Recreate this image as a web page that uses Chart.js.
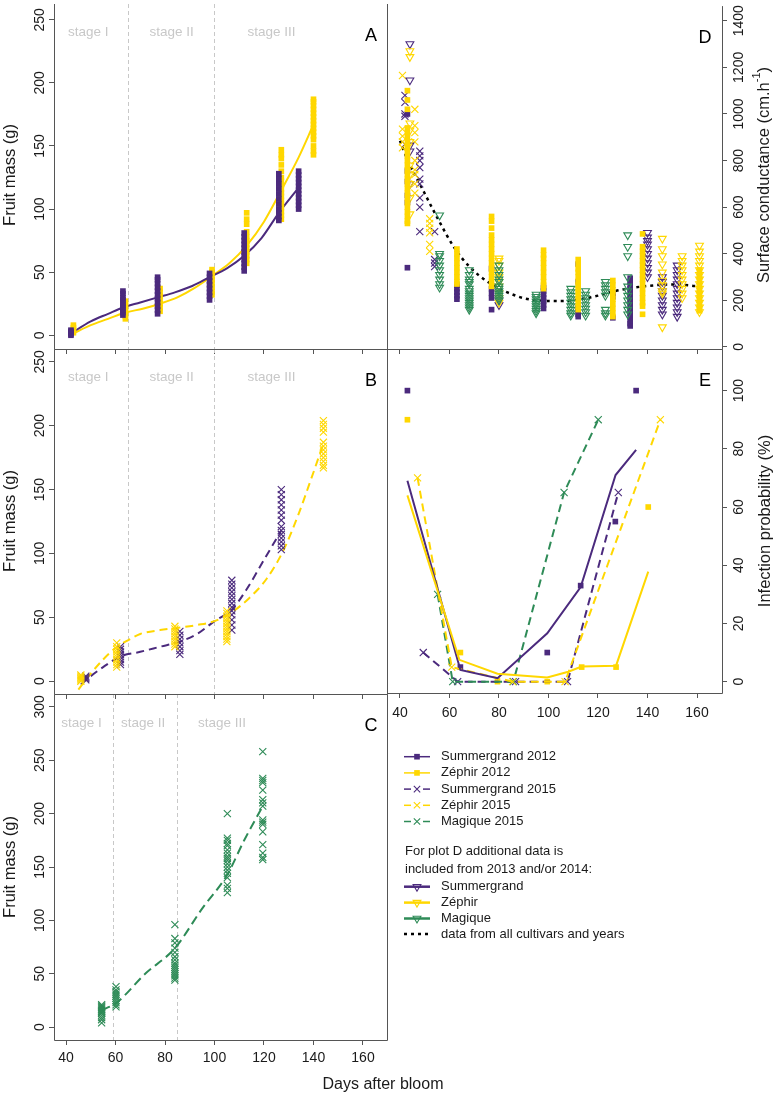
<!DOCTYPE html>
<html>
<head>
<meta charset="utf-8">
<script src="https://cdn.jsdelivr.net/npm/chart.js@4.4.1/dist/chart.umd.min.js"></script>
<style>
  body { margin: 0; background: #fff; }
  #wrap { position: relative; width: 777px; height: 1095px; }
  #wrap canvas { position: absolute; left: 0; top: 0; }
</style>
</head>
<body>
<div id="wrap">
  <canvas id="cA" width="777" height="1095"></canvas>
  <canvas id="cB" width="777" height="1095"></canvas>
  <canvas id="cC" width="777" height="1095"></canvas>
  <canvas id="cD" width="777" height="1095"></canvas>
  <canvas id="cE" width="777" height="1095"></canvas>
</div>
<script>
// colours / fonts
const PURPLE = '#4b2a7d', YELLOW = '#ffd700', GREEN = '#2e8b57';
const AXIS = '#555', TEXT = '#1a1a1a', STAGE = '#c8c8c8';
const FONT = "'Liberation Sans', Arial, sans-serif";

// tick labels
const dayTicks = [40, 60, 80, 100, 120, 140, 160];
const massTicksAB = [0, 50, 100, 150, 200, 250];
const massTicksC = [0, 50, 100, 150, 200, 250, 300];
const condTicks = [0, 200, 400, 600, 800, 1000, 1200, 1400];
const probTicks = [0, 20, 40, 60, 80, 100];
const stageNames = ['stage I', 'stage II', 'stage III'];

// ---- panel A : fruit mass 2012 (squares) ----
const aSG12Days = [42, 63, 77, 98, 112, 126, 134];
const aSG12Mass = [
  [0, 1, 2, 3, 4],
  [16, 18, 20, 22, 24, 26, 28, 30, 33, 35],
  [17, 20, 23, 26, 29, 32, 35, 38, 41, 44, 46],
  [28, 31, 34, 37, 40, 43, 46, 49],
  [51, 54, 57, 60, 63, 66, 69, 72, 75, 78, 81],
  [91, 94, 97, 100, 104, 108, 112, 116, 120, 124, 128],
  [100, 103, 106, 109, 112, 115, 118, 121, 124, 127, 130]
];
const aZe12Days = [43, 64, 78, 99, 113, 127, 140];
const aZe12Mass = [
  [2, 4, 6, 8],
  [13, 15, 17, 19, 21, 23, 25, 27],
  [19, 22, 25, 28, 31, 34, 37],
  [32, 35, 38, 41, 44, 47, 50, 52],
  [57, 60, 63, 66, 69, 72, 75, 78, 82, 88, 92, 97],
  [92, 95, 98, 101, 104, 107, 110, 113, 116, 119, 122, 125, 130, 135, 140, 143, 147],
  [143, 146, 150, 155, 158, 161, 164, 167, 170, 173, 176, 179, 182, 185, 187]
];
const aSG12FitDays = [42, 50, 57, 63, 70, 77, 84, 91, 98, 105, 112, 119, 126, 134];
const aSG12FitMass = [1.5, 11, 17, 22, 26, 30, 34, 39, 46, 53, 63, 77, 97, 117];
const aZe12FitDays = [43, 50, 57, 64, 71, 78, 85, 92, 99, 106, 113, 120, 127, 134, 140];
const aZe12FitMass = [1.5, 8, 13, 18, 21, 25, 30, 37.5, 47, 57, 71, 90, 115, 141, 167];

// ---- panel B : fruit mass 2015 (crosses) ----
const bSG15Days = [48, 62, 86, 107, 127];
const bSG15Mass = [
  [1, 2, 3, 4],
  [13, 15, 17, 19, 21, 23, 25, 27],
  [21, 24, 27, 30, 33, 36, 39],
  [40, 44, 48, 52, 55, 58, 61, 64, 67, 70, 73, 76, 79],
  [103, 106, 109, 112, 115, 118, 121, 126, 130, 134, 138, 142, 146, 150]
];
const bZe15Days = [46, 60.5, 84, 105, 144];
const bZe15Mass = [
  [0, 1, 2, 3, 4, 5],
  [11, 13, 15, 17, 19, 21, 23, 25, 27, 30],
  [27, 29, 31, 33, 35, 37, 39, 41, 43],
  [31, 33, 35, 37, 39, 41, 43, 45, 47, 49, 51, 53, 55],
  [167, 169, 172, 175, 178, 181, 184, 187, 195, 198, 201, 204]
];
const bSG15FitDays = [46, 50, 55, 62, 70, 78, 86, 93, 100, 107, 113, 120, 127];
const bSG15FitMass = [-2.6, 4, 11, 19.5, 23, 27, 31, 37, 47, 56, 72, 95, 118];
const bZe15FitDays = [45, 50, 55, 60, 65, 70, 78, 86, 93, 100, 107, 114, 121, 128, 134, 139, 144];
const bZe15FitMass = [-6.5, 6, 17, 26, 32, 37, 40, 42, 44, 47, 54, 65, 80, 103, 131, 158, 186];

// ---- panel C : Magique 2015 ----
const cMag15Days = [54.4, 60.2, 84, 105.2, 119.5];
const cMag15Mass = [
  [4, 7, 9, 11, 13, 14, 15, 16, 17, 18, 19, 20, 21],
  [19, 21, 23, 25, 27, 29, 31, 33, 35, 38],
  [44, 46, 48, 50, 52, 54, 56, 58, 60, 63, 66, 70, 74, 79, 83, 96],
  [126, 130, 133, 140, 144, 147, 150, 153, 156, 158, 160, 163, 166, 170, 172, 175, 177, 200],
  [157, 159, 163, 171, 183, 190, 192, 194, 207, 210, 213, 222, 229, 231, 233, 258]
];
const cMag15FitDays = [54.4, 60.2, 72, 84, 95, 105.2, 112, 119.5];
const cMag15FitMass = [16, 22.5, 50, 74, 111, 143, 175, 207];

// ---- panel D : surface conductance ----
const dZe15Days = [41, 46, 52];
const dZe15Cond = [
  [1165, 935, 905, 880, 855],
  [1020, 950, 920, 880, 800, 760, 740, 700, 660],
  [550, 530, 510, 490, 440, 410]
];
const dSG15Days = [42, 48, 54];
const dSG15Cond = [
  [1080, 1050, 1000, 990, 870],
  [840, 820, 800, 770, 720, 700, 640, 600, 495],
  [495, 375, 360, 345]
];
const dSG12Days = [43, 63, 77, 98, 112, 126, 133];
const dSG12Cond = [
  [1000, 755, 710, 650, 620, 340],
  [265, 250, 235, 220, 205],
  [335, 250, 230, 210, 160],
  [255, 240, 225, 210, 195, 180, 165],
  [355, 280, 170, 155, 140, 130],
  [230, 215, 125],
  [295, 280, 265, 250, 235, 220, 205, 190, 175, 160, 145, 130, 115, 100, 90]
];
const dZe12Days = [43, 63, 77, 98, 112, 126, 138, 161];
const dZe12Cond = [
  [1100, 1060, 1020, 940, 920, 900, 880, 860, 840, 820, 800, 780, 760, 740, 720, 700, 680, 660, 640, 620, 600, 580, 560, 540, 530],
  [420, 400, 380, 360, 340, 320, 300, 280, 270],
  [560, 540, 510, 480, 460, 440, 420, 400, 380, 360, 340, 320, 300, 280, 260],
  [415, 395, 380, 360, 340, 320, 300, 280, 265, 250],
  [375, 355, 335, 320, 300, 280, 265, 250, 235, 220, 205, 190, 175, 160],
  [285, 265, 245, 225, 205, 185, 165, 145, 130],
  [485, 430, 410, 390, 370, 350, 330, 310, 290, 270, 250, 230, 210, 190, 175, 140],
  [330, 310, 290, 270, 250, 230, 210, 190, 170, 155]
];
const dSGTriDays = [44, 80, 140, 146, 152];
const dSGTriCond = [
  [1300, 1145, 865, 840, 700],
  [200, 180],
  [490, 470, 455, 440, 420, 400, 380, 360, 340, 320, 300],
  [300, 280, 260, 240, 220, 200, 180, 160, 140],
  [350, 330, 310, 290, 270, 250, 230, 210, 190, 170, 150, 130]
];
const dZeTriDays = [44, 80, 146, 154, 161];
const dZeTriCond = [
  [1270, 1245, 960, 930, 880, 780, 740, 700, 640, 570],
  [380, 370, 350, 320, 300, 280, 260, 230, 210, 190],
  [465, 420, 390, 355, 320, 285, 265, 240, 230, 85],
  [390, 370, 350, 330, 310, 290, 270, 250, 230, 210],
  [435, 410, 390, 370, 350, 330, 310, 290, 270, 250, 230, 210, 190, 170, 150]
];
const dMagTriDays = [56, 68, 80, 95, 109, 115, 123, 132];
const dMagTriCond = [
  [565, 400, 390, 370, 350, 330, 310, 290, 270, 255],
  [330, 310, 290, 280, 270, 250, 240, 230, 220, 210, 200, 190, 180, 170, 160],
  [350, 330, 310, 290, 280, 260, 250, 240, 230, 220, 210, 200],
  [225, 215, 205, 195, 185, 175, 165, 155, 145],
  [250, 235, 220, 205, 190, 175, 160, 145, 135],
  [240, 225, 210, 195, 180, 165, 150, 135],
  [280, 265, 250, 235, 220, 160, 145, 135],
  [480, 430, 390, 300, 260, 240, 220, 200, 180, 160, 140]
];
const dFitDays = [40, 43, 48, 55, 62, 68, 76, 87, 95, 105, 113, 120, 127, 135, 140, 151, 162];
const dFitCond = [885, 805, 700, 556, 425, 345, 276, 219, 200, 197, 205, 220, 240, 255, 262, 268, 258];

// ---- panel E : infection probability ----
const eSG12ObsDays = [43, 64.4, 99.5, 113, 127, 135.4];
const eSG12ObsProb = [100, 5, 10, 33, 55, 100];
const eZe12ObsDays = [43, 64.4, 79.4, 99.5, 113.4, 127.3, 140.3];
const eZe12ObsProb = [90, 10, 0, 0, 5, 5, 60];
const eSG12FitDays = [43, 64.4, 79.4, 99.5, 113, 127.1, 135.4];
const eSG12FitProb = [69, 4, 1.2, 16.6, 32.5, 71, 79.6];
const eZe12FitDays = [43, 64, 79.4, 99.5, 108, 113.4, 127.3, 140.3];
const eZe12FitProb = [64, 7.5, 2.7, 1.4, 3.4, 5.2, 5.5, 37.8];
const eSG15Days = [49.4, 63.3, 86.7, 107.7, 128.2];
const eSG15Prob = [10, 0, 0, 0, 65];
const eZe15Days = [47.1, 60.9, 85.5, 106.7, 145.2];
const eZe15Prob = [70, 5, 0, 0, 90];
const eMag15Days = [55.2, 61.3, 85.8, 106.3, 120.1];
const eMag15Prob = [30, 0, 0, 65, 90];

// ---- helpers ----
const el = (id) => document.getElementById(id);
const W = 777, H = 1095;
const XLAB_H = 30; // room kept under panels that show day labels

function cols(days, vals){
  return days.flatMap((d, i) => vals[i].map(v => ({x: d, y: v})));
}
function pairs(days, vals){
  return days.map((d, i) => ({x: d, y: vals[i]}));
}
function marks(data, color, style, r){
  const filled = style === 'rect';
  return {
    data, showLine: false, pointStyle: style, pointRadius: r,
    pointRotation: style === 'triangle' ? 180 : 0,
    pointBackgroundColor: filled ? color : 'rgba(0,0,0,0)',
    pointBorderColor: color, pointBorderWidth: filled ? 0 : 1.1
  };
}
function curve(data, color, dash, w, smooth){
  return {
    data, showLine: true, pointRadius: 0, borderColor: color, borderWidth: w,
    borderDash: dash, fill: false,
    cubicInterpolationMode: smooth ? 'monotone' : 'default', tension: 0
  };
}
function dashedWithX(data, color){
  return {
    data, showLine: true, borderColor: color, borderWidth: 2, borderDash: [8, 5],
    pointStyle: 'crossRot', pointRadius: 5, pointBorderColor: color,
    pointBorderWidth: 1.1, pointBackgroundColor: 'rgba(0,0,0,0)', tension: 0
  };
}

function text(ctx, s, x, y, size, color, align, rot){
  ctx.save();
  ctx.font = size + 'px ' + FONT;
  ctx.fillStyle = color;
  ctx.textAlign = align || 'center';
  ctx.textBaseline = 'middle';
  ctx.translate(x, y);
  if (rot) ctx.rotate(rot);
  ctx.fillText(s, 0, 0);
  ctx.restore();
}

// axes, frame, stage marks and titles of one panel
function decoPlugin(cfg){
  return {
    id: 'deco',
    beforeDatasetsDraw(chart){
      if (!cfg.stages) return;
      const ctx = chart.ctx, a = chart.chartArea, xs = chart.scales.x;
      ctx.save();
      ctx.strokeStyle = STAGE; ctx.lineWidth = 1; ctx.setLineDash([4, 3]);
      cfg.stages.lines.forEach(d => {
        const px = Math.round(xs.getPixelForValue(d)) + 0.5;
        ctx.beginPath(); ctx.moveTo(px, a.top); ctx.lineTo(px, a.bottom); ctx.stroke();
      });
      ctx.restore();
      cfg.stages.centers.forEach((d, i) => {
        text(ctx, stageNames[i], xs.getPixelForValue(d), cfg.stages.y, 13.5, STAGE);
      });
    },
    afterDraw(chart){
      const ctx = chart.ctx, a = chart.chartArea, ys = chart.scales.y;
      ctx.save();
      ctx.strokeStyle = AXIS; ctx.lineWidth = 1;
      ctx.beginPath();
      const L = a.left + 0.5, R = a.right + 0.5, T = a.top + 0.5, B = a.bottom + 0.5;
      ctx.moveTo(L, cfg.top ? T : a.top); ctx.lineTo(L, B); ctx.lineTo(R, B); ctx.lineTo(R, cfg.top ? T : a.top);
      if (cfg.top) { ctx.moveTo(L, T); ctx.lineTo(R, T); }
      ctx.stroke();
      ctx.restore();
      const lx = cfg.right ? 739 : 40;
      ys.ticks.forEach(t => {
        text(ctx, String(t.value), lx, ys.getPixelForValue(t.value), 14, TEXT, 'center', -Math.PI / 2);
      });
      text(ctx, cfg.letter, cfg.right ? 705 : 371, a.top + 32, 18, '#000');
      if (cfg.title) cfg.title(ctx, a);
      if (cfg.extra) cfg.extra(ctx, chart);
    }
  };
}

function makePanel(id, box, xr, yr, yTicks, cfg, datasets){
  const showX = !!cfg.xLabels;
  const xH = showX ? XLAB_H : 0;
  return new Chart(el(id), {
    type: 'scatter',
    data: { datasets },
    options: {
      responsive: false, animation: false, events: [],
      layout: { padding: { left: box[0], top: box[1], right: W - box[2], bottom: H - box[3] - xH } },
      plugins: { legend: { display: false }, tooltip: { enabled: false } },
      scales: {
        x: {
          type: 'linear', min: xr[0], max: xr[1],
          afterBuildTicks: s => { s.ticks = dayTicks.map(v => ({ value: v })); },
          afterFit: s => { s.height = xH; },
          grid: { drawOnChartArea: false, drawTicks: true, tickLength: 5, color: AXIS },
          border: { display: false },
          ticks: { display: showX, color: TEXT, font: { family: FONT, size: 14 },
                   padding: cfg.xPad || 4, maxRotation: 0, autoSkip: false }
        },
        y: {
          type: 'linear', position: cfg.right ? 'right' : 'left', min: yr[0], max: yr[1],
          afterBuildTicks: s => { s.ticks = yTicks.map(v => ({ value: v })); },
          afterFit: s => { s.width = 0; },
          grid: { drawOnChartArea: false, drawTicks: true, tickLength: 5, color: AXIS },
          border: { display: false },
          ticks: { display: false }
        }
      }
    },
    plugins: [decoPlugin(cfg)]
  });
}

const leftX = [35.15, 169.7], rightX = [34.75, 170.1];
const massTitle = (cy) => (ctx) => text(ctx, 'Fruit mass (g)', 10, cy, 16.5, TEXT, 'center', -Math.PI / 2);

// A
makePanel('cA', [54, 0, 387, 349], leftX, [-10.9, 262.5], massTicksAB,
  { letter: 'A', title: massTitle(175), stages: { lines: [65, 100], centers: [49, 82.7, 123], y: 32 } },
  [
    marks(cols(aSG12Days, aSG12Mass), PURPLE, 'rect', 4),
    marks(cols(aZe12Days, aZe12Mass), YELLOW, 'rect', 4),
    curve(pairs(aSG12FitDays, aSG12FitMass), PURPLE, [], 2, true),
    curve(pairs(aZe12FitDays, aZe12FitMass), YELLOW, [], 2, true)
  ]);

// B
makePanel('cB', [54, 349, 387, 694], leftX, [-10, 260], massTicksAB,
  { letter: 'B', top: true, title: massTitle(521), stages: { lines: [65, 100], centers: [49, 82.7, 123], y: 377 } },
  [
    marks(cols(bZe15Days, bZe15Mass), YELLOW, 'crossRot', 5),
    marks(cols(bSG15Days, bSG15Mass), PURPLE, 'crossRot', 5),
    curve(pairs(bZe15FitDays, bZe15FitMass), YELLOW, [8, 5], 2, true),
    curve(pairs(bSG15FitDays, bSG15FitMass), PURPLE, [8, 5], 2, true)
  ]);

// C
makePanel('cC', [54, 694, 387, 1040], leftX, [-12, 312], massTicksC,
  { letter: 'C', top: true, xLabels: true, xPad: 5, title: (ctx) => {
      text(ctx, 'Fruit mass (g)', 10, 867, 16.5, TEXT, 'center', -Math.PI / 2);
      text(ctx, 'Days after bloom', 383, 1085, 16, TEXT);
    },
    stages: { lines: [59, 85], centers: [46.3, 71.2, 103], y: 723 } },
  [
    marks(cols(cMag15Days, cMag15Mass), GREEN, 'crossRot', 5),
    curve(pairs(cMag15FitDays, cMag15FitMass), GREEN, [9, 5], 2, true)
  ]);

// D
makePanel('cD', [387, 0, 722, 349], rightX, [-9, 1463], condTicks,
  { letter: 'D', right: true, title: (ctx) => {
      ctx.save();
      ctx.translate(764, 175);
      ctx.rotate(-Math.PI / 2);
      ctx.font = '16.5px ' + FONT;
      ctx.fillStyle = TEXT; ctx.textBaseline = 'middle'; ctx.textAlign = 'left';
      const main = 'Surface conductance (cm.h', sup = '-1', end = ')';
      const wMain = ctx.measureText(main).width, wEnd = ctx.measureText(end).width;
      ctx.font = '11px ' + FONT;
      const wSup = ctx.measureText(sup).width;
      const x0 = -(wMain + wSup + wEnd) / 2;
      ctx.font = '16.5px ' + FONT;
      ctx.fillText(main, x0, 0);
      ctx.fillText(end, x0 + wMain + wSup, 0);
      ctx.font = '11px ' + FONT;
      ctx.fillText(sup, x0 + wMain, -7);
      ctx.restore();
    } },
  [
    marks(cols(dMagTriDays, dMagTriCond), GREEN, 'triangle', 4.5),
    marks(cols(dZe12Days, dZe12Cond), YELLOW, 'rect', 4),
    marks(cols(dSG12Days, dSG12Cond), PURPLE, 'rect', 4),
    marks(cols(dZeTriDays, dZeTriCond), YELLOW, 'triangle', 4.5),
    marks(cols(dSGTriDays, dSGTriCond), PURPLE, 'triangle', 4.5),
    marks(cols(dZe15Days, dZe15Cond), YELLOW, 'crossRot', 5),
    marks(cols(dSG15Days, dSG15Cond), PURPLE, 'crossRot', 5),
    curve(pairs(dFitDays, dFitCond), '#000', [3, 4], 2.5, true)
  ]);

// legend (drawn under panel E)
const legendRows = [
  { label: 'Summergrand 2012', color: PURPLE, style: 'rect', dashed: false },
  { label: 'Zéphir 2012', color: YELLOW, style: 'rect', dashed: false },
  { label: 'Summergrand 2015', color: PURPLE, style: 'crossRot', dashed: true },
  { label: 'Zéphir 2015', color: YELLOW, style: 'crossRot', dashed: true },
  { label: 'Magique 2015', color: GREEN, style: 'crossRot', dashed: true }
];
const legendRowsD = [
  { label: 'Summergrand', color: PURPLE },
  { label: 'Zéphir', color: YELLOW },
  { label: 'Magique', color: GREEN }
];

function drawMark(ctx, style, color, x, y, r){
  const filled = style === 'rect';
  ctx.save();
  ctx.fillStyle = filled ? color : 'rgba(0,0,0,0)';
  ctx.strokeStyle = color;
  ctx.lineWidth = 1.1;
  Chart.helpers.drawPoint(ctx, { pointStyle: style, radius: r,
    rotation: style === 'triangle' ? 180 : 0, borderWidth: filled ? 0 : 1.1 }, x, y);
  ctx.restore();
}
function seg(ctx, color, w, x1, x2, y, dash){
  ctx.save();
  ctx.strokeStyle = color; ctx.lineWidth = w; ctx.setLineDash(dash || []);
  ctx.beginPath(); ctx.moveTo(x1, y); ctx.lineTo(x2, y); ctx.stroke();
  ctx.restore();
}
function drawLegend(ctx){
  legendRows.forEach((r, i) => {
    const y = 756.7 + i * 16.2;
    if (r.dashed) { seg(ctx, r.color, 1.5, 404, 411, y); seg(ctx, r.color, 1.5, 423, 430, y); }
    else seg(ctx, r.color, 1.5, 404, 430, y);
    drawMark(ctx, r.style, r.color, 417, y, r.style === 'rect' ? 4 : 4.5);
    text(ctx, r.label, 441, y, 13, TEXT, 'left');
  });
  text(ctx, 'For plot D additional data is', 405, 851.7, 13, TEXT, 'left');
  text(ctx, 'included from 2013 and/or 2014:', 405, 869, 13, TEXT, 'left');
  legendRowsD.forEach((r, i) => {
    const y = 886.7 + i * 15.9;
    seg(ctx, r.color, 2.5, 404, 430, y);
    drawMark(ctx, 'triangle', r.color, 417, y, 4.5);
    text(ctx, r.label, 441, y, 13, TEXT, 'left');
  });
  seg(ctx, '#000', 2.5, 404, 430, 934, [3, 4]);
  text(ctx, 'data from all cultivars and years', 441, 934, 13, TEXT, 'left');
}

// E
makePanel('cE', [387, 349, 722, 693], rightX, [-3.9, 114.3], probTicks,
  { letter: 'E', right: true, top: true, xLabels: true, xPad: 7,
    title: (ctx) => text(ctx, 'Infection probability (%)', 765, 521, 16.5, TEXT, 'center', -Math.PI / 2),
    extra: (ctx) => drawLegend(ctx) },
  [
    curve(pairs(eZe12FitDays, eZe12FitProb), YELLOW, [], 2, false),
    curve(pairs(eSG12FitDays, eSG12FitProb), PURPLE, [], 2, false),
    dashedWithX(pairs(eZe15Days, eZe15Prob), YELLOW),
    dashedWithX(pairs(eMag15Days, eMag15Prob), GREEN),
    dashedWithX(pairs(eSG15Days, eSG15Prob), PURPLE),
    marks(pairs(eZe12ObsDays, eZe12ObsProb), YELLOW, 'rect', 4),
    marks(pairs(eSG12ObsDays, eSG12ObsProb), PURPLE, 'rect', 4)
  ]);
</script>
</body>
</html>
